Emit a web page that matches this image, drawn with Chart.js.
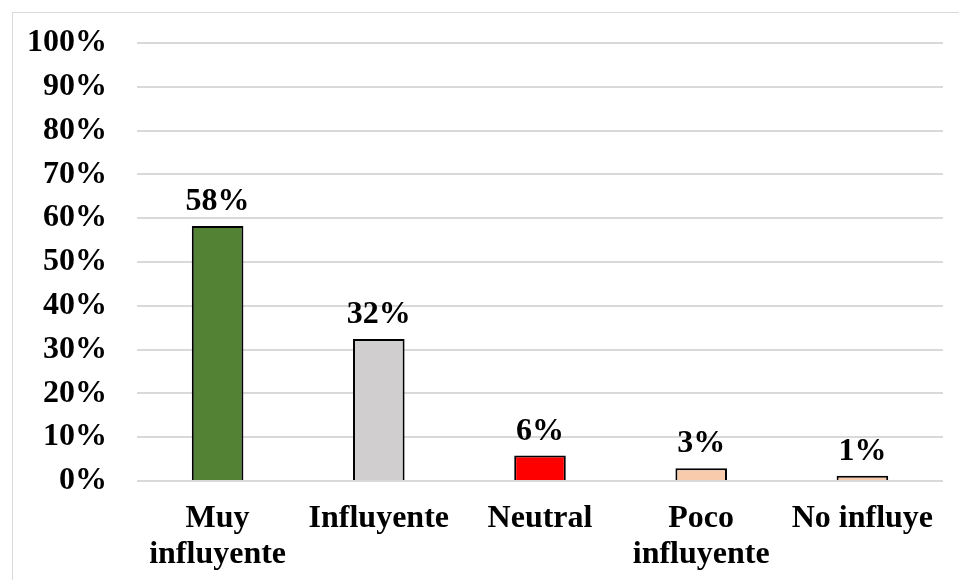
<!DOCTYPE html>
<html>
<head>
<meta charset="utf-8">
<script src="https://cdn.jsdelivr.net/npm/chart.js@4"></script>
<style>
  html, body { margin: 0; padding: 0; background: #fff; overflow: hidden; }
  #wrap { position: relative; width: 959px; height: 580px; }
  #marco { position: absolute; left: 12px; top: 12px; width: 980px; height: 600px;
           border: 1px solid #d9d9d9; pointer-events: none; }
</style>
</head>
<body>
<div id="wrap">
  <canvas id="grafico" width="959" height="580"></canvas>
  <div id="marco"></div>
</div>
<script>
const categorias = [['Muy', 'influyente'], 'Influyente', 'Neutral', ['Poco', 'influyente'], 'No influye'];
const valores = [58.2, 32.4, 5.8, 2.9, 1.2];
const colores = ['#548235', '#d0cece', '#ff0000', '#f8cbad', '#f8cbad'];
const ticksY = [0, 10, 20, 30, 40, 50, 60, 70, 80, 90, 100];

const fuente = { family: '"Liberation Serif", "Times New Roman", serif', size: 32, weight: 'bold', lineHeight: 1.12 };

const etiquetas = {
    id: 'etiquetas',
    afterDatasetsDraw(chart) {
        const ctx = chart.ctx;
        const meta = chart.getDatasetMeta(0);
        ctx.save();
        ctx.font = 'bold 32px "Liberation Serif", "Times New Roman", serif';
        ctx.fillStyle = '#000';
        ctx.textAlign = 'center';
        ctx.textBaseline = 'alphabetic';
        meta.data.forEach(function (barra, i) {
            ctx.fillText(Math.round(valores[i]) + '%', barra.x, barra.y - 16);
        });
        ctx.restore();
    }
};

const contexto = document.getElementById('grafico').getContext('2d');

new Chart(contexto, {
    type: 'bar',
    data: {
        labels: categorias,
        datasets: [{
            data: valores,
            backgroundColor: colores,
            borderColor: '#000',
            borderWidth: 2,
            borderSkipped: 'bottom',
            categoryPercentage: 1,
            barPercentage: 0.32,
        }],
    },
    options: {
        responsive: false,
        animation: false,
        layout: { padding: { top: 43, right: 16, bottom: 0, left: 0 } },
        plugins: { legend: { display: false }, tooltip: { enabled: false } },
        scales: {
            x: {
                grid: { display: false },
                border: { display: false },
                ticks: { color: '#000', font: fuente, padding: 12, maxRotation: 0 },
                afterFit(scale) { scale.height = 99; scale.paddingLeft = 0; scale.paddingRight = 0; },
            },
            y: {
                min: 0,
                max: 100,
                afterBuildTicks(scale) { scale.ticks = ticksY.map(v => ({ value: v })); },
                grid: { color: '#d9d9d9', lineWidth: 2, drawTicks: false },
                border: { display: false },
                ticks: { color: '#000', font: fuente, padding: 30, callback: v => v + '%' },
                afterFit(scale) { scale.width = 137; scale.paddingTop = 0; scale.paddingBottom = 0; },
            },
        },
    },
    plugins: [etiquetas],
});
</script>
</body>
</html>
